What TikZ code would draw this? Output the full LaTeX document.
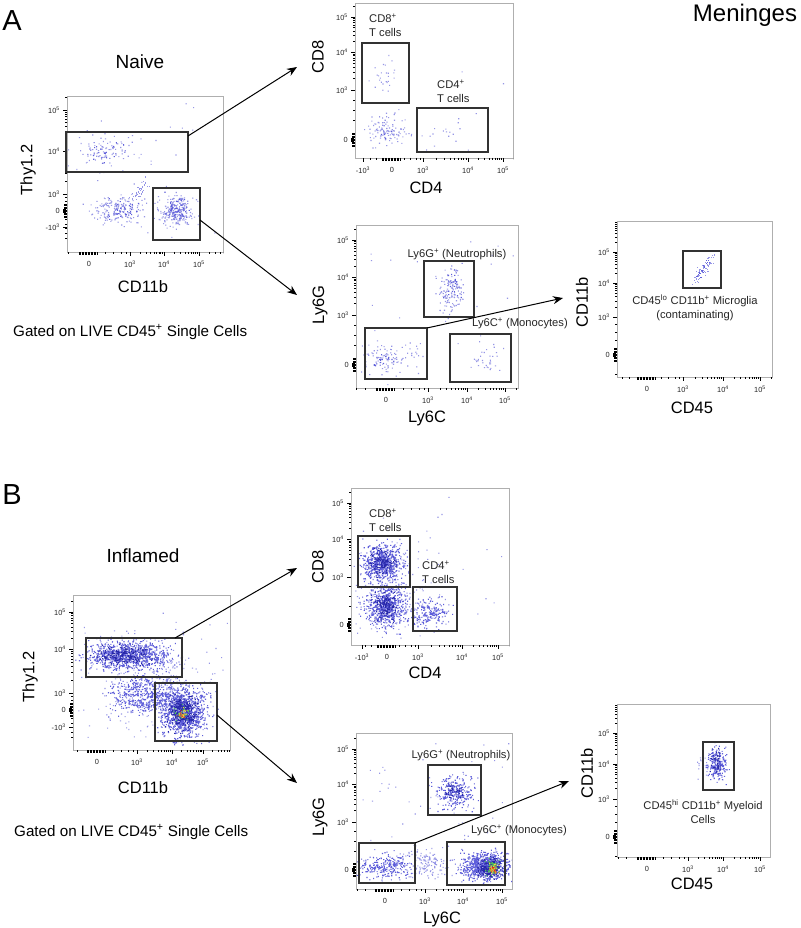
\documentclass[tikz,border=0pt]{standalone}
\usepackage{fontspec}
\setmainfont{Liberation Sans}
\usetikzlibrary{arrows.meta,calc}
\definecolor{dotlt}{RGB}{150,150,230}
\definecolor{dotmd}{RGB}{95,95,218}
\definecolor{dotdk}{RGB}{40,40,170}
\definecolor{hgreen}{RGB}{80,190,90}
\definecolor{hyellow}{RGB}{240,220,60}
\definecolor{horange}{RGB}{240,150,40}
\definecolor{hred}{RGB}{220,50,30}
\definecolor{fgray}{RGB}{175,175,175}
\definecolor{gdark}{RGB}{50,50,50}
\tikzset{
 frame/.style={draw=fgray, line width=0.8pt},
 gate/.style={draw=gdark, line width=1.5pt, inner sep=0pt, outer sep=0pt},
 flow/.style={-{Stealth[length=10pt,width=8pt]}, line width=1pt, black},
 tk/.style={line width=0.45pt, black},
 axlab/.style={font=\fontsize{16.5}{17}\selectfont, inner sep=0pt},
 ticklab/.style={font=\fontsize{7.4}{8}\selectfont, inner sep=0pt, text=black!85},
 gatelab/.style={font=\fontsize{11.2}{14}\selectfont, inner sep=0pt, text=black!85},
 ptitle/.style={font=\fontsize{19}{19}\selectfont, inner sep=0pt},
 panel/.style={font=\fontsize{29}{29}\selectfont, inner sep=0pt},
 note/.style={font=\fontsize{15.2}{16}\selectfont, inner sep=0pt},
}
% scatter helpers
\newcommand\fcClus[6]{\fill[#6] \foreach \i in {1,...,#1}{({#2+#4*(rand+rand+rand)},{#3+#5*(rand+rand+rand)}) rectangle ++(1.1,1.1)};}
\newcommand\fcScat[6]{\fill[#6] \foreach \i in {1,...,#1}{({(#2+#3)/2+(#3-#2)/2*rand},{(#4+#5)/2+(#5-#4)/2*rand}) rectangle ++(1.1,1.1)};}
\newcommand\fcDiag[8]{\foreach \i in {1,...,#1}{\pgfmathsetmacro\fct{rand}\fill[#8] ({#2+#4*\fct+#6*(rand+rand)},{#3+#5*\fct+#7*(rand+rand)}) rectangle ++(1.1,1.1);}}
% frame and axes
\newcommand\fcFrame[4]{\def\fL{#1}\def\fT{#2}\def\fR{#3}\def\fB{#4}\draw[frame] (#1,#2) rectangle (#3,#4);}
\newcommand\fcXdec[2]{\foreach \m in {2,...,9}{\draw[tk] ({#1+(#2-#1)*log10(\m)},\fB) -- ++(0,2);}\draw[tk] (#1,\fB) -- ++(0,4);}
\newcommand\fcYdec[2]{\foreach \m in {2,...,9}{\draw[tk] (\fL,{#1+(#2-#1)*log10(\m)}) -- ++(-2,0);}\draw[tk] (\fL,#1) -- ++(-4,0);}
\newcommand\fcXaxis[4]{%
 \begin{scope}
 \clip (\fL-2,\fB-1) rectangle (\fR,\fB+6);
 \fcXdec{#2}{#3}\fcXdec{#3}{#4}\fcXdec{#4}{2*#4-#3}
 \foreach \d in {-10,-8.5,...,8}{\draw[tk] ({#1+\d},\fB) -- ++(0,3);}
 \foreach \f in {0.4,0.6,0.78,0.9}{\draw[tk] ({#1+(#2-#1)*\f},\fB) -- ++(0,2);}
 \foreach \f in {0.5,0.7}{\draw[tk] ({#1-(#2-#1)*\f},\fB) -- ++(0,2);}
 \end{scope}
 \node[ticklab] at (#1,\fB+12) {0};
 \node[ticklab] at (#2,\fB+12) {10\textsuperscript{3}};
 \node[ticklab] at (#3,\fB+12) {10\textsuperscript{4}};
 \node[ticklab] at (#4,\fB+12) {10\textsuperscript{5}};
}
\newcommand\fcXneg[1]{\draw[tk] (#1,\fB) -- ++(0,4);\node[ticklab] at (#1,\fB+12) {-10\textsuperscript{3}};}
\newcommand\fcYaxis[4]{%
 \begin{scope}
 \clip (\fL-7,\fT) rectangle (\fL+1,\fB);
 \fcYdec{#2}{#3}\fcYdec{#3}{#4}\fcYdec{#4}{2*#4-#3}
 \foreach \d in {-7,-5.5,...,7}{\draw[tk] (\fL,{#1+\d}) -- ++(-3,0);}
 \foreach \f in {0.4,0.6,0.8}{\draw[tk] (\fL,{#1+(#2-#1)*\f}) -- ++(-2,0);}
 \foreach \f in {0.5,0.75,1.0,1.3,1.6}{\draw[tk] (\fL,{#1-(#2-#1)*\f}) -- ++(-2,0);}
 \fill (\fL-4,#1-2) rectangle (\fL-1,#1+2);
 \end{scope}
 \node[ticklab,anchor=east] at (\fL-7,#1) {0};
 \node[ticklab,anchor=east] at (\fL-7,#2) {10\textsuperscript{3}};
 \node[ticklab,anchor=east] at (\fL-7,#3) {10\textsuperscript{4}};
 \node[ticklab,anchor=east] at (\fL-7,#4) {10\textsuperscript{5}};
}
\newcommand\fcYneg[1]{\draw[tk] (\fL,#1) -- ++(-4,0);\node[ticklab,anchor=east] at (\fL-7,#1) {-10\textsuperscript{3}};}

\begin{document}
\begin{tikzpicture}[x=1pt,y=-1pt]
\useasboundingbox[fill=white] (0,0) rectangle (800,928);
\pgfmathsetseed{2718}

\node[panel] (pA) at (12,21) {A};
\node[panel] (pB) at (12,495) {B};
\node[font=\fontsize{24}{24}\selectfont, inner sep=0pt] (men) at (745,15) {Meninges};

%================ A1 naive Thy1.2 / CD11b
\fcFrame{67}{96}{223}{252}
\begin{scope}
\clip (67,96) rectangle (223,252);
\fcClus{80}{112}{150}{19}{7}{dotlt}
\fcClus{30}{105}{152}{11}{5}{dotmd}
\fcClus{150}{118}{210}{14}{7}{dotlt}
\fcClus{55}{120}{210}{8}{5}{dotmd}
\fcDiag{35}{140}{190}{6}{-8}{4}{4}{dotlt}
\fcClus{190}{176}{211}{9}{8}{dotlt}
\fcClus{80}{175}{210}{6}{5}{dotmd}
\fcScat{35}{75}{218}{100}{248}{dotlt}
\end{scope}
\fcXaxis{89}{130}{164}{199}
\fcYaxis{211}{194}{151}{110}
\fcYneg{227}
\node[gate, anchor=north west, minimum width=122pt, minimum height=40pt] (gA1) at (66,132) {};
\node[gate, anchor=north west, minimum width=47pt, minimum height=52pt] (gA2) at (153,188) {};
\node[axlab, rotate=90] (yA1) at (28,170) {Thy1.2};
\node[axlab] (xA1) at (143,287) {CD11b};
\node[ptitle] (tA) at (140,62) {Naive};
\node[note, anchor=west] (nA) at (13,332) {Gated on LIVE CD45\textsuperscript{+} Single Cells};

%================ A2 naive CD8 / CD4
\fcFrame{355}{3}{513}{158}
\begin{scope}
\clip (355,3) rectangle (513,158);
\fcClus{25}{383}{75}{6}{10}{dotlt}
\fcClus{90}{386}{130}{11}{8}{dotlt}
\fcClus{20}{386}{130}{6}{5}{dotmd}
\fcClus{15}{440}{130}{12}{8}{dotlt}
\fcScat{8}{360}{505}{60}{150}{dotlt}
\end{scope}
\fcXaxis{392}{423}{468}{503}
\fcXneg{363}
\fcYaxis{140}{90}{52}{17}
\node[gate, anchor=north west, minimum width=47pt, minimum height=60pt] (gA3) at (362,43) {};
\node[gate, anchor=north west, minimum width=71pt, minimum height=44pt] (gA4) at (417,108) {};
\node[gatelab, anchor=west, align=left] (lA3) at (369,25) {CD8\textsuperscript{+}\\T cells};
\node[gatelab, anchor=west, align=left] (lA4) at (437,91) {CD4\textsuperscript{+}\\T cells};
\node[axlab, rotate=90] (yA2) at (318,57) {CD8};
\node[axlab] (xA2) at (426,188) {CD4};

%================ A3 naive Ly6G / Ly6C
\fcFrame{356}{225}{518}{388}
\begin{scope}
\clip (356,225) rectangle (518,388);
\fcClus{110}{450}{290}{7}{11}{dotlt}
\fcClus{40}{452}{285}{5}{8}{dotmd}
\fcClus{100}{390}{358}{13}{7}{dotlt}
\fcClus{25}{385}{360}{6}{4}{dotmd}
\fcClus{30}{486}{360}{9}{6}{dotlt}
\fcScat{25}{360}{515}{235}{385}{dotlt}
\end{scope}
\fcXaxis{386}{428}{467}{505}
\fcYaxis{365}{315}{277}{240}
\node[gate, anchor=north west, minimum width=50pt, minimum height=56pt] (gA5) at (424,261) {};
\node[gate, anchor=north west, minimum width=62pt, minimum height=51pt] (gA6) at (365,328) {};
\node[gate, anchor=north west, minimum width=61pt, minimum height=48pt] (gA7) at (450,334) {};
\node[gatelab] (lA5) at (457,254) {Ly6G\textsuperscript{+} (Neutrophils)};
\node[gatelab] (lA7) at (520,323) {Ly6C\textsuperscript{+} (Monocytes)};
\node[axlab, rotate=90] (yA3) at (320,305) {Ly6G};
\node[axlab] (xA3) at (427,418) {Ly6C};

%================ A4 naive CD11b / CD45
\fcFrame{617}{221}{772}{377}
\begin{scope}
\clip (617,221) rectangle (772,377);
\fcDiag{65}{702}{270}{9}{-13}{2.5}{3}{dotlt}
\fcDiag{20}{702}{270}{7}{-10}{1.5}{2}{dotmd}
\end{scope}
\fcXaxis{647}{683}{723}{760}
\fcYaxis{355}{317}{283}{252}
\node[gate, anchor=north west, minimum width=38pt, minimum height=37pt] (gA8) at (683,251) {};
\node[gatelab, align=center] (lA8) at (695,308) {CD45\textsuperscript{lo} CD11b\textsuperscript{+} Microglia\\(contaminating)};
\node[axlab, rotate=90] (yA4) at (582,302) {CD11b};
\node[axlab] (xA4) at (692,408) {CD45};

% arrows A
\coordinate (eA1) at (297,67);
\coordinate (eA2) at (297,295);
\coordinate (eA3) at (563,298);
\draw[flow] ($(gA1.north east)+(0,4)$) -- (eA1);
\draw[flow] ($(gA2.east)+(0,6)$) -- (eA2);
\draw[flow] (gA6.north east) -- (eA3);

%================ B1 inflamed Thy1.2 / CD11b
\fcFrame{73}{595}{230}{750}
\begin{scope}
\clip (73,595) rectangle (230,750);
\fcClus{300}{150}{680}{28}{22}{dotlt}
\fcClus{850}{128}{655}{20}{7}{dotmd}
\fcClus{220}{125}{655}{13}{5}{dotdk}
\fcClus{500}{145}{695}{17}{9}{dotmd}
\fcClus{950}{183}{712}{11}{13}{dotmd}
\fcClus{330}{182}{712}{7}{8}{dotdk}
\fcClus{30}{181}{713}{4}{4}{hgreen}
\fcClus{15}{181}{713}{3}{3}{hyellow}
\fcClus{10}{181}{714}{2}{2}{horange}
\fcClus{5}{181}{714}{1.5}{1.5}{hred}
\fcScat{40}{80}{228}{605}{745}{dotlt}
\end{scope}
\fcXaxis{97}{137}{172}{203}
\fcYaxis{710}{693}{649}{612}
\fcYneg{727}
\node[gate, anchor=north west, minimum width=96pt, minimum height=39pt] (gB1) at (86,638) {};
\node[gate, anchor=north west, minimum width=62pt, minimum height=58pt] (gB2) at (155,683) {};
\node[axlab, rotate=90] (yB1) at (30,677) {Thy1.2};
\node[axlab] (xB1) at (143,788) {CD11b};
\node[ptitle] (tB) at (143,556) {Inflamed};
\node[note, anchor=west] (nB) at (14,832) {Gated on LIVE CD45\textsuperscript{+} Single Cells};

%================ B2 inflamed CD8 / CD4
\fcFrame{351}{488}{509}{645}
\begin{scope}
\clip (351,488) rectangle (509,645);
\fcClus{200}{395}{590}{22}{22}{dotlt}
\fcClus{600}{382}{562}{10}{9}{dotmd}
\fcClus{150}{382}{562}{6}{6}{dotdk}
\fcClus{600}{385}{606}{10}{10}{dotmd}
\fcClus{150}{385}{606}{6}{7}{dotdk}
\fcClus{200}{428}{612}{9}{7}{dotmd}
\fcScat{25}{355}{505}{495}{640}{dotlt}
\end{scope}
\fcXaxis{387}{418}{462}{498}
\fcXneg{362}
\fcYaxis{625}{577}{539}{503}
\node[gate, anchor=north west, minimum width=52pt, minimum height=51pt] (gB3) at (358,536) {};
\node[gate, anchor=north west, minimum width=44pt, minimum height=44pt] (gB4) at (413,587) {};
\node[gatelab, anchor=west, align=left] (lB3) at (369,520) {CD8\textsuperscript{+}\\T cells};
\node[gatelab, anchor=west, align=left] (lB4) at (422,572) {CD4\textsuperscript{+}\\T cells};
\node[axlab, rotate=90] (yB2) at (318,567) {CD8};
\node[axlab] (xB2) at (425,673) {CD4};

%================ B3 inflamed Ly6G / Ly6C
\fcFrame{356}{733}{512}{889}
\begin{scope}
\clip (356,733) rectangle (512,889);
\fcClus{250}{455}{792}{9}{8}{dotmd}
\fcClus{50}{455}{790}{5}{4}{dotdk}
\fcClus{250}{385}{866}{13}{6}{dotmd}
\fcClus{150}{425}{862}{12}{7}{dotlt}
\fcClus{700}{483}{866}{12}{7}{dotmd}
\fcClus{260}{490}{868}{6}{5}{dotdk}
\fcClus{60}{492}{867}{3.5}{3.5}{hgreen}
\fcClus{25}{493}{868}{2.5}{2.5}{hyellow}
\fcClus{12}{493}{869}{2}{2}{horange}
\fcClus{8}{493}{869}{1.5}{1.5}{hred}
\fcScat{50}{360}{510}{740}{885}{dotlt}
\end{scope}
\fcXaxis{385}{425}{463}{502}
\fcYaxis{870}{822}{784}{749}
\node[gate, anchor=north west, minimum width=53pt, minimum height=50pt] (gB5) at (428,765) {};
\node[gate, anchor=north west, minimum width=56pt, minimum height=40pt] (gB6) at (359,843) {};
\node[gate, anchor=north west, minimum width=58pt, minimum height=43pt] (gB7) at (447,842) {};
\node[gatelab] (lB5) at (461,755) {Ly6G\textsuperscript{+} (Neutrophils)};
\node[gatelab] (lB7) at (519,830) {Ly6C\textsuperscript{+} (Monocytes)};
\node[axlab, rotate=90] (yB3) at (320,817) {Ly6G};
\node[axlab] (xB3) at (442,919) {Ly6C};

%================ B4 inflamed CD11b / CD45
\fcFrame{617}{704}{770}{857}
\begin{scope}
\clip (617,704) rectangle (770,857);
\fcClus{200}{716}{765}{5}{8}{dotmd}
\fcClus{50}{716}{762}{3}{6}{dotdk}
\fcClus{15}{702}{765}{4}{6}{dotlt}
\end{scope}
\fcXaxis{647}{688}{723}{760}
\fcYaxis{837}{799}{764}{733}
\node[gate, anchor=north west, minimum width=31pt, minimum height=48pt] (gB8) at (703,742) {};
\node[gatelab, align=center] (lB8) at (703,812) {CD45\textsuperscript{hi} CD11b\textsuperscript{+} Myeloid\\Cells};
\node[axlab, rotate=90] (yB4) at (587,773) {CD11b};
\node[axlab] (xB4) at (692,884) {CD45};

% arrows B
\coordinate (eB1) at (297,568);
\coordinate (eB2) at (297,783);
\coordinate (eB3) at (569,781);
\draw[flow] ($(gB1.north east)+(-7,0)$) -- (eB1);
\draw[flow] ($(gB2.east)+(0,3)$) -- (eB2);
\draw[flow] (gB6.north east) -- (eB3);
\end{tikzpicture}
\end{document}
